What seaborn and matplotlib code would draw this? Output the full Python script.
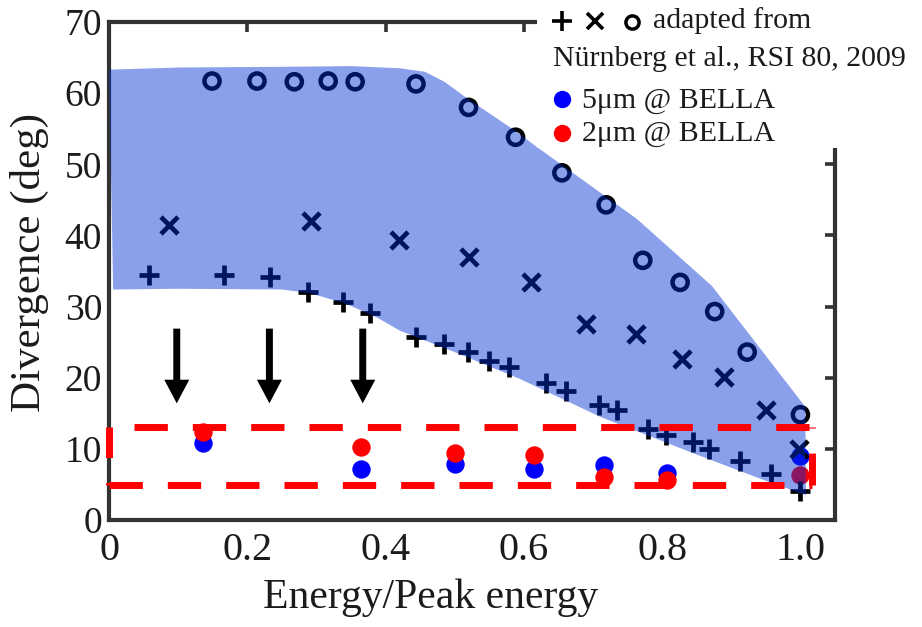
import numpy as np
import pandas as pd
import matplotlib
matplotlib.use("Agg")
import matplotlib.pyplot as plt
import seaborn as sns
from matplotlib.patches import Rectangle
from matplotlib.lines import Line2D

# ---------------- data ----------------
plus_x = [0.058, 0.166, 0.233, 0.288, 0.338, 0.377, 0.444, 0.484, 0.519, 0.550,
          0.579, 0.632, 0.661, 0.709, 0.735, 0.779, 0.805, 0.844, 0.868, 0.913,
          0.958, 1.0]
plus_y = [34.4, 34.5, 34.1, 32.1, 30.6, 29.1, 25.7, 24.7, 23.6, 22.4,
          21.5, 19.2, 18.1, 16.2, 15.5, 12.8, 11.9, 11.0, 10.0, 8.3,
          6.4, 4.1]
cross_x = [0.087, 0.292, 0.420, 0.521, 0.610, 0.690, 0.762, 0.828, 0.890, 0.950, 0.998]
cross_y = [41.4, 42.0, 39.4, 36.9, 33.5, 27.5, 26.2, 22.7, 20.1, 15.4, 10.0]
circle_x = [0.149, 0.214, 0.268, 0.317, 0.356, 0.444, 0.520, 0.588, 0.655, 0.719,
            0.772, 0.826, 0.876, 0.923, 1.0]
circle_y = [61.7, 61.7, 61.6, 61.7, 61.6, 61.3, 58.0, 53.8, 48.8, 44.3,
            36.5, 33.4, 29.3, 23.6, 14.8]

bella_x = [0.1365, 0.3647, 0.5007, 0.614, 0.7163, 0.807, 1.0]
blue_y = [10.8, 7.2, 7.9, 7.2, 7.8, 6.6, 9.0]   # 5um @ BELLA
red_y = [12.4, 10.2, 9.4, 9.1, 6.1, 5.6, 6.3]   # 2um @ BELLA

# envelope of the literature data (shaded band)
env_upper_x = [0.0, 0.10, 0.25, 0.35, 0.42, 0.457, 0.485, 0.5176, 0.5875, 0.6136,
               0.7637, 0.872, 1.007]
env_upper_y = [63.3, 63.6, 63.7, 63.8, 63.5, 63.0, 61.6, 59.3, 54.7, 52.8,
               42.3, 32.9, 15.9]
env_lower_x = [1.008, 0.942, 0.85, 0.7106, 0.595, 0.50, 0.421, 0.387, 0.34,
               0.29, 0.25, 0.10, 0.006, 0.003]
env_lower_y = [3.5, 5.8, 9.2, 14.5, 19.8, 23.6, 26.6, 28.5, 30.5,
               31.9, 32.4, 32.5, 32.4, 48.0]

# highlighted band (dashed box) and arrows
box_x = [0.0, 1.017]
box_y = [4.9, 13.1]
arrow_x = [0.098, 0.232, 0.367]
arrow_y = [26.9, 16.4]

x_ticks = [0, 0.2, 0.4, 0.6, 0.8, 1.0]
x_ticklabels = ["0", "0.2", "0.4", "0.6", "0.8", "1.0"]
y_ticks = [0, 10, 20, 30, 40, 50, 60, 70]

legend_line1 = "adapted from"
legend_line2 = "Nürnberg et al., RSI 80, 2009"
legend_blue = "5μm @ BELLA"
legend_red = "2μm @ BELLA"

# ---------------- style ----------------
sns.set_style("white")
plt.rcParams["font.family"] = ["Liberation Serif", "DejaVu Serif"]
plt.rcParams["mathtext.fontset"] = "custom"
SPINE = "#333333"
TXT = "#1c1a1a"

W, H = 922, 627
fig = plt.figure(figsize=(W / 100, H / 100), dpi=100)
ax = fig.add_axes([109 / W, 1 - 520 / H, (835 - 109) / W, (520 - 22) / H])


def fx(px):
    return px / W


def fy(py):
    return 1 - py / H


# markers from the literature (black, covered by translucent band)
sns.scatterplot(x=plus_x, y=plus_y, marker="+", color="black", s=190,
                linewidth=3.4, ax=ax, zorder=2)
sns.scatterplot(x=cross_x, y=cross_y, marker="x", color="black", s=150,
                linewidth=3.4, ax=ax, zorder=2)
sns.scatterplot(x=circle_x, y=circle_y, marker="o", color="none",
                edgecolor="black", s=120, linewidth=3.2, ax=ax, zorder=2)

# BELLA points
sns.scatterplot(x=bella_x, y=blue_y, color="#0000ff", s=175, linewidth=0,
                ax=ax, zorder=1)
sns.scatterplot(x=bella_x, y=red_y, color="#ff0000", s=175, linewidth=0,
                ax=ax, zorder=1.5)

# translucent envelope
poly_x = list(env_upper_x) + list(env_lower_x)
poly_y = list(env_upper_y) + list(env_lower_y)
ax.fill(poly_x, poly_y, color="#0030d3", alpha=0.46, linewidth=0, zorder=3)

# dashed red box
red_kw = dict(color="#ff0000", lw=5, solid_capstyle="butt", dash_capstyle="butt",
              zorder=4, clip_on=False)
ax.plot(box_x, [box_y[1], box_y[1]], linestyle=(4.8, (4.8, 3.6)), **red_kw)
ax.plot(box_x, [box_y[0], box_y[0]], linestyle=(0, (4.8, 3.6)), **red_kw)
ax.plot([box_x[0], box_x[0]], [box_y[1], box_y[0]], linestyle=(0, (4.4, 3.6)), **red_kw)
ax.plot([box_x[1], box_x[1]], [box_y[0], box_y[1]], linestyle=(0, (4.6, 3.6)), **red_kw)

# arrows
for xa in arrow_x:
    ax.annotate("", xy=(xa, arrow_y[1]), xytext=(xa, arrow_y[0]),
                arrowprops=dict(arrowstyle="simple,head_length=1.7,head_width=1.8,tail_width=0.5",
                                mutation_scale=10, color="black", lw=0,
                                shrinkA=0, shrinkB=0), zorder=5)

# axes
ax.set_xlim(0, 1.05)
ax.set_ylim(0, 70)
ax.set_xticks(x_ticks)
ax.set_xticklabels(x_ticklabels)
ax.set_yticks(y_ticks)
for s in ax.spines.values():
    s.set_linewidth(3)
    s.set_color(SPINE)
ax.tick_params(direction="in", length=7, width=2.6, color=SPINE, top=True,
               right=True, labelcolor=TXT)
ax.tick_params(axis="x", labelsize=29, pad=9)
ax.tick_params(axis="y", labelsize=27, pad=5)
ax.set_xlabel("Energy/Peak energy", fontsize=30, color=TXT)
ax.xaxis.set_label_coords(0.443, -0.118)
ax.set_ylabel("Divergence (deg)", fontsize=31, color=TXT)
ax.yaxis.set_label_coords(-0.083, 0.518)
ax.set_facecolor("white")

# legend block (white box covering the top right corner)
fig.add_artist(Rectangle((fx(537), fy(148)), 1 - fx(537), 148 / H,
                         transform=fig.transFigure, facecolor="white",
                         edgecolor="none", zorder=10))
lg_kw = dict(transform=fig.transFigure, zorder=11, clip_on=False, linestyle="none")
fig.add_artist(Line2D([fx(562)], [fy(21)], marker="+", markersize=14,
                      mew=2.6, color="black", **lg_kw))
fig.add_artist(Line2D([fx(595)], [fy(21)], marker="x", markersize=11,
                      mew=2.6, color="black", **lg_kw))
fig.add_artist(Line2D([fx(632)], [fy(22)], marker="o", markersize=9.5,
                      mew=2.5, markerfacecolor="none", color="black", **lg_kw))
fig.add_artist(Line2D([fx(562)], [fy(99)], marker="o", markersize=12.5,
                      mew=0, color="#0000ff", **lg_kw))
fig.add_artist(Line2D([fx(562)], [fy(133)], marker="o", markersize=12.5,
                      mew=0, color="#ff0000", **lg_kw))
t_kw = dict(fontsize=21.5, color=TXT, va="baseline", ha="left", zorder=12)
fig.text(fx(653), fy(28), legend_line1, **t_kw)
fig.text(fx(553), fy(66), legend_line2, **t_kw)
fig.text(fx(582), fy(108), legend_blue, **t_kw)
fig.text(fx(582), fy(141), legend_red, **t_kw)

fig.savefig("out.png", dpi=100, facecolor="white")
